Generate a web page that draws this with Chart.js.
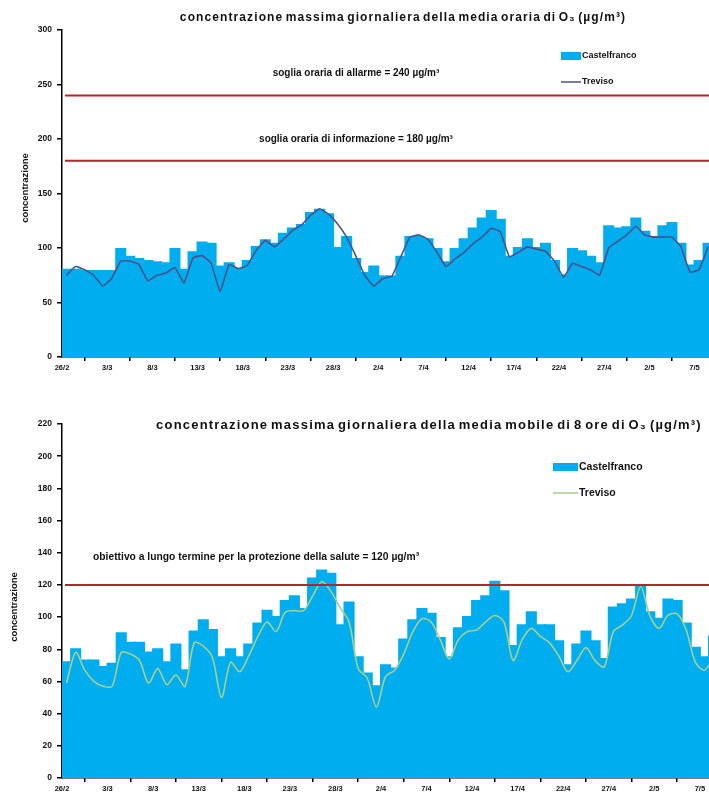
<!DOCTYPE html>
<html>
<head>
<meta charset="utf-8">
<script src="https://cdn.jsdelivr.net/npm/chart.js@4.4.1/dist/chart.umd.min.js"></script>
<style>
  body { margin: 0; background: #fff; }
  #wrap { position: relative; width: 709px; height: 796px; overflow: hidden; }
  canvas { position: absolute; left: 0; }
  #c1 { top: 0; }
  #c2 { top: 400px; }
</style>
</head>
<body>
<div id="wrap">
  <canvas id="c1" width="709" height="380"></canvas>
  <canvas id="c2" width="709" height="396"></canvas>
</div>
<script>
// ======= DATA =======
// one value per day, from 26/2 onwards
const tickLabels = ["26/2","3/3","8/3","13/3","18/3","23/3","28/3","2/4","7/4","12/4","17/4","22/4","27/4","2/5","7/5"];

const castelfrancoOrario = [80,80,79,79,79,79,99,92,90,88,87,86,99,80,96,105,104,83,86,81,88,101,107,104,113,118,121,132,135,131,100,110,90,77,83,74,74,92,110,110,108,99,87,99,108,118,127,134,126,92,100,108,100,104,88,75,99,97,92,86,120,118,119,127,115,110,120,123,104,84,88,104];
const trevisoOrario = [75,83,80,75,65,72,88,88,85,70,75,77,82,68,91,93,86,60,85,81,84,98,107,101,108,116,121,130,136,131,122,110,93,75,65,72,74,92,110,112,108,96,83,90,96,104,110,118,115,92,96,101,99,97,88,73,86,83,80,75,100,106,112,120,112,110,110,110,101,78,80,101];

const castelfranco8h = [72,80,73,73,69,71,90,84,84,78,80,72,83,67,91,98,92,75,80,75,83,96,104,100,110,113,105,124,129,127,95,109,75,65,57,70,68,86,98,105,102,87,75,93,100,110,113,122,116,82,95,103,95,95,85,70,83,91,85,74,106,108,111,120,103,99,111,110,96,81,75,88];
const treviso8h = [59,78,67,60,57,57,78,77,73,59,68,58,64,57,84,82,75,50,72,66,76,88,97,91,103,104,104,113,122,116,106,97,68,62,44,63,67,77,91,99,97,86,74,86,91,92,97,101,97,73,86,93,88,84,76,66,73,81,73,69,91,95,101,119,101,93,101,102,92,72,67,75];

const sogliaOraria = [240, 180];
const sogliaOrariaTesti = ["soglia oraria di allarme = 240 µg/m³", "soglia oraria di informazione = 180 µg/m³"];
const obiettivo8h = [120];
const obiettivo8hTesti = ["obiettivo a lungo termine per la protezione della salute = 120 µg/m³"];

// ======= STYLE =======
const BAR = "#00aeef", RED = "#b3262e";
const FONT = "'Liberation Sans', Arial, sans-serif";

function toPoints(arr){ return arr.map((v,i) => ({x: i + 0.5, y: v})); }

// draws titles, limit lines, legend, y title
const decor = {
  id: "decor",
  afterDatasetsDraw(chart, args, o){
    const {ctx, chartArea: a, scales: {y}} = chart;
    ctx.save();
    o.limits.forEach((v,i) => {
      const py = y.getPixelForValue(v);
      ctx.strokeStyle = RED; ctx.lineWidth = 2;
      ctx.beginPath(); ctx.moveTo(a.left + 3, py); ctx.lineTo(a.right, py); ctx.stroke();
      ctx.fillStyle = "#111"; ctx.font = "bold " + o.limitSize + "px " + FONT;
      ctx.textAlign = o.limitAlign; ctx.textBaseline = "middle";
      ctx.fillText(o.limitTexts[i], o.limitX, py + o.limitDy);
    });
    // title (squeezed words, like the original)
    ctx.fillStyle = "#111"; ctx.font = "bold " + o.titleSize + "px " + FONT;
    ctx.textAlign = "center"; ctx.textBaseline = "middle";
    ctx.letterSpacing = o.titleLs; ctx.wordSpacing = "-2px";
    ctx.fillText(o.title, o.titleX, o.titleY);
    ctx.letterSpacing = "0px"; ctx.wordSpacing = "0px";
    // legend
    const L = o.legend;
    ctx.fillStyle = BAR; ctx.fillRect(L.x, L.y - 4, L.w, 8);
    ctx.strokeStyle = o.lineColor; ctx.lineWidth = 1.5;
    ctx.beginPath(); ctx.moveTo(L.x, L.y + L.gap); ctx.lineTo(L.x + L.w, L.y + L.gap); ctx.stroke();
    ctx.fillStyle = "#111"; ctx.font = "bold " + L.size + "px " + FONT;
    ctx.textAlign = "left";
    ctx.fillText(chart.data.datasets[1].label, L.x + L.w + 1, L.y);
    ctx.fillText(chart.data.datasets[0].label, L.x + L.w + 1, L.y + L.gap);
    // y title
    ctx.translate(o.yTitleX, o.yTitleY); ctx.rotate(-Math.PI/2);
    ctx.font = "bold 9.5px " + FONT; ctx.textAlign = "center";
    ctx.fillText("concentrazione", 0, 0);
    ctx.restore();
  }
};

function makeChart(id, bars, line, lineColor, tension, yMax, yStep, xMax, pad, d){
  return new Chart(document.getElementById(id), {
    type: "bar",
    data: {
      datasets: [
        { type: "line", label: "Treviso", data: toPoints(line), borderColor: lineColor, borderWidth: 1.6,
          pointRadius: 0, tension: tension, order: 0 },
        { type: "bar", label: "Castelfranco", data: toPoints(bars), backgroundColor: BAR,
          categoryPercentage: 1, barPercentage: 1, borderWidth: 0, inflateAmount: 1, order: 1 }
      ]
    },
    options: {
      responsive: false, animation: false,
      layout: { padding: pad },
      plugins: { legend: { display: false }, tooltip: { enabled: false }, decor: d },
      scales: {
        x: {
          type: "linear", min: 0, max: xMax, offset: false,
          afterBuildTicks: s => { s.ticks = tickLabels.map((t,i) => ({value: i*5})); },
          afterFit: s => { s.height = 18; },
          ticks: { autoSkip: false, maxRotation: 0, padding: 2, color: "#111",
                   font: { family: FONT, size: 7.5, weight: "bold" },
                   callback: (v) => tickLabels[v/5] },
          grid: { display: true, drawOnChartArea: false, drawTicks: true, tickLength: 4, color: "#000", lineWidth: 1.5 },
          border: { display: true, color: "#000", width: 1.5 }
        },
        y: {
          min: 0, max: yMax,
          afterFit: s => { s.width = 62; },
          ticks: { stepSize: yStep, padding: 5, color: "#111", font: { family: FONT, size: 8.5, weight: "bold" } },
          grid: { display: true, drawOnChartArea: false, drawTicks: true, tickLength: 5, color: "#000", lineWidth: 1.5 },
          border: { display: true, color: "#000", width: 1.5 }
        }
      }
    },
    plugins: [decor]
  });
}

makeChart("c1", castelfrancoOrario, trevisoOrario, "#4a5289", 0.1, 300, 50, 71.6,
  { top: 30, right: 0, bottom: 5, left: 0 },
  { limits: sogliaOraria, limitTexts: sogliaOrariaTesti, limitSize: 10, limitAlign: "center", limitX: 356, limitDy: -22,
    title: "concentrazione massima giornaliera della media oraria di O₃ (µg/m³)", titleSize: 12, titleLs: "1.1px", titleX: 403, titleY: 18,
    lineColor: "#4a5289", legend: { x: 561, y: 56, w: 20, gap: 26, size: 9 }, yTitleX: 25, yTitleY: 188 });

makeChart("c2", castelfranco8h, treviso8h, "#a6cf8c", 0.3, 220, 20, 71,
  { top: 24, right: 0, bottom: 0, left: 0 },
  { limits: obiettivo8h, limitTexts: obiettivo8hTesti, limitSize: 10.3, limitAlign: "left", limitX: 93, limitDy: -28,
    title: "concentrazione massima giornaliera della media mobile di 8 ore di O₃ (µg/m³)", titleSize: 13, titleLs: "1.2px", titleX: 429, titleY: 25,
    lineColor: "#a6cf8c", legend: { x: 553, y: 67, w: 25, gap: 26, size: 10.5 }, yTitleX: 14, yTitleY: 207 });
</script>
</body>
</html>
